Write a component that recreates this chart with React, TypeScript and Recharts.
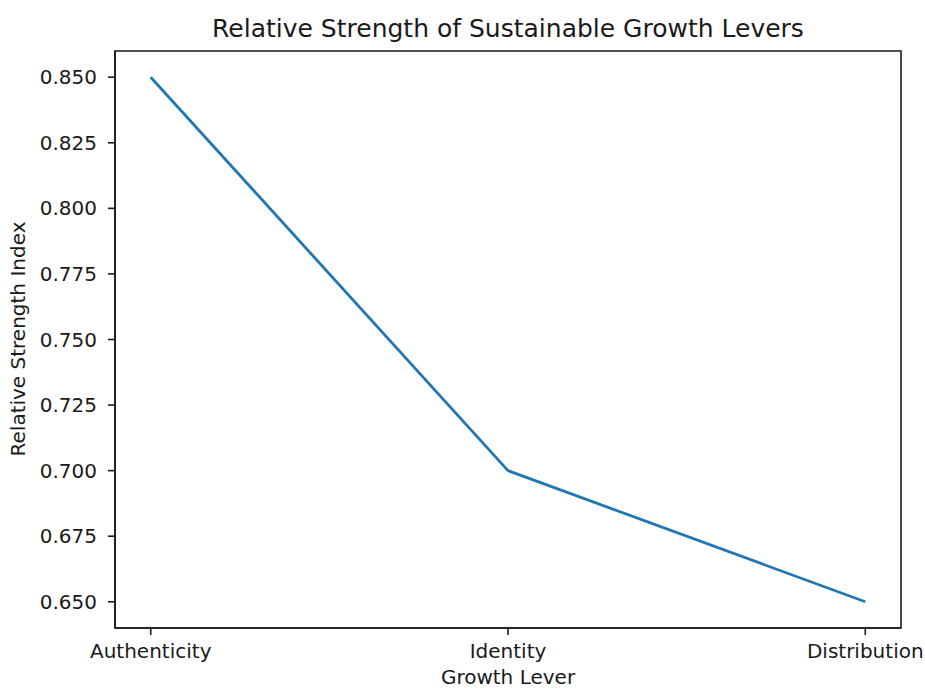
import React from 'react';
import { LineChart, Line, XAxis, YAxis, ReferenceArea } from 'recharts';

const levers = ['Authenticity', 'Identity', 'Distribution'];
const strength = [0.85, 0.7, 0.65];
const yTicks = [0.65, 0.675, 0.7, 0.725, 0.75, 0.775, 0.8, 0.825, 0.85];

const data = levers.map((name, i) => ({ x: i, name, value: strength[i] }));

const FONT = '"DejaVu Sans", sans-serif';
const INK = '#1a1a1a';

export default function App() {
  return (
    <div style={{ position: 'absolute', left: 0, top: 0, width: 925, height: 690, background: '#fff', fontFamily: FONT }}>
      <div style={{ position: 'absolute', left: 115, width: 786, top: 16, lineHeight: 1, textAlign: 'center', fontSize: 25, color: INK }}>
        Relative Strength of Sustainable Growth Levers
      </div>
      <div style={{ position: 'absolute', left: 115, width: 786, top: 667, lineHeight: 1, textAlign: 'center', fontSize: 20, color: INK }}>
        Growth Lever
      </div>
      <div style={{ position: 'absolute', left: 18, top: 339, lineHeight: 1, transform: 'translate(-50%, -50%) rotate(-90deg)', whiteSpace: 'nowrap', fontSize: 20, color: INK }}>
        Relative Strength Index
      </div>
      <LineChart width={925} height={690} data={data} margin={{ top: 51, right: 24, bottom: 32, left: 55 }}>
        <XAxis
          type="number"
          dataKey="x"
          domain={[-0.1, 2.1]}
          ticks={[0, 1, 2]}
          tickFormatter={(v: number) => levers[v]}
          height={30}
          stroke={INK}
          strokeWidth={1.6}
          tickSize={7}
          tickMargin={9}
          tick={{ fill: INK, fontSize: 20, fontFamily: FONT }}
          interval={0}
        />
        <YAxis
          domain={[0.64, 0.86]}
          ticks={yTicks}
          tickFormatter={(v: number) => v.toFixed(3)}
          width={60}
          stroke={INK}
          strokeWidth={1.6}
          tickSize={7}
          tickMargin={11}
          tick={{ fill: INK, fontSize: 20, fontFamily: FONT }}
          interval={0}
          allowDataOverflow
        />
        <ReferenceArea x1={-0.1} x2={2.1} y1={0.64} y2={0.86} fill="none" stroke={INK} strokeWidth={1.6} ifOverflow="visible" />
        <Line type="linear" dataKey="value" stroke="#1f77b4" strokeWidth={2.8} dot={false} isAnimationActive={false} />
      </LineChart>
    </div>
  );
}
